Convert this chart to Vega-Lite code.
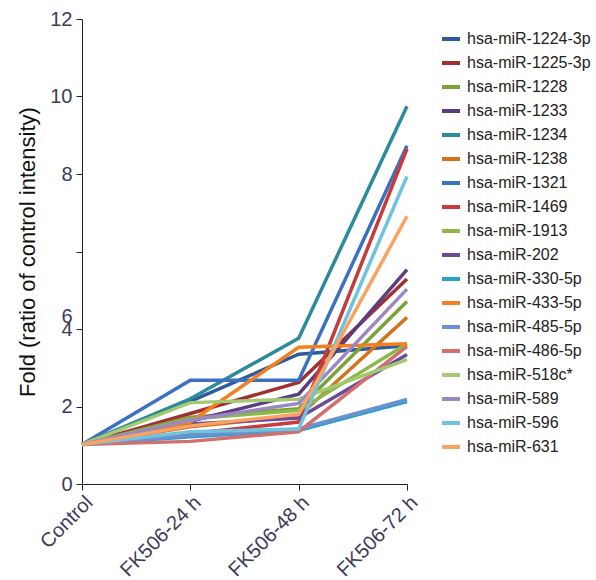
{
  "$schema": "https://vega.github.io/schema/vega-lite/v6.json",
  "autosize": {"type": "none"},
  "padding": {"left": 82, "top": 19, "right": 189, "bottom": 96},
  "width": 325,
  "height": 465,
  "background": "white",
  "config": {"view": {"stroke": null}, "font": "Liberation Sans"},
  "data": {"values": [
    {"miR":"hsa-miR-1224-3p","time":"Control","fold":1.02},{"miR":"hsa-miR-1224-3p","time":"FK506-24 h","fold":2.13},{"miR":"hsa-miR-1224-3p","time":"FK506-48 h","fold":3.35},{"miR":"hsa-miR-1224-3p","time":"FK506-72 h","fold":3.57},
    {"miR":"hsa-miR-1225-3p","time":"Control","fold":1.02},{"miR":"hsa-miR-1225-3p","time":"FK506-24 h","fold":1.82},{"miR":"hsa-miR-1225-3p","time":"FK506-48 h","fold":2.62},{"miR":"hsa-miR-1225-3p","time":"FK506-72 h","fold":5.29},
    {"miR":"hsa-miR-1228","time":"Control","fold":1.02},{"miR":"hsa-miR-1228","time":"FK506-24 h","fold":1.72},{"miR":"hsa-miR-1228","time":"FK506-48 h","fold":1.94},{"miR":"hsa-miR-1228","time":"FK506-72 h","fold":4.71},
    {"miR":"hsa-miR-1233","time":"Control","fold":1.02},{"miR":"hsa-miR-1233","time":"FK506-24 h","fold":1.62},{"miR":"hsa-miR-1233","time":"FK506-48 h","fold":2.32},{"miR":"hsa-miR-1233","time":"FK506-72 h","fold":5.53},
    {"miR":"hsa-miR-1234","time":"Control","fold":1.02},{"miR":"hsa-miR-1234","time":"FK506-24 h","fold":2.2},{"miR":"hsa-miR-1234","time":"FK506-48 h","fold":3.76},{"miR":"hsa-miR-1234","time":"FK506-72 h","fold":9.75},
    {"miR":"hsa-miR-1238","time":"Control","fold":1.02},{"miR":"hsa-miR-1238","time":"FK506-24 h","fold":1.48},{"miR":"hsa-miR-1238","time":"FK506-48 h","fold":1.75},{"miR":"hsa-miR-1238","time":"FK506-72 h","fold":4.3},
    {"miR":"hsa-miR-1321","time":"Control","fold":1.02},{"miR":"hsa-miR-1321","time":"FK506-24 h","fold":2.68},{"miR":"hsa-miR-1321","time":"FK506-48 h","fold":2.68},{"miR":"hsa-miR-1321","time":"FK506-72 h","fold":8.73},
    {"miR":"hsa-miR-1469","time":"Control","fold":1.02},{"miR":"hsa-miR-1469","time":"FK506-24 h","fold":1.3},{"miR":"hsa-miR-1469","time":"FK506-48 h","fold":1.6},{"miR":"hsa-miR-1469","time":"FK506-72 h","fold":8.65},
    {"miR":"hsa-miR-1913","time":"Control","fold":1.02},{"miR":"hsa-miR-1913","time":"FK506-24 h","fold":1.68},{"miR":"hsa-miR-1913","time":"FK506-48 h","fold":1.9},{"miR":"hsa-miR-1913","time":"FK506-72 h","fold":3.62},
    {"miR":"hsa-miR-202","time":"Control","fold":1.02},{"miR":"hsa-miR-202","time":"FK506-24 h","fold":1.55},{"miR":"hsa-miR-202","time":"FK506-48 h","fold":1.7},{"miR":"hsa-miR-202","time":"FK506-72 h","fold":3.34},
    {"miR":"hsa-miR-330-5p","time":"Control","fold":1.02},{"miR":"hsa-miR-330-5p","time":"FK506-24 h","fold":1.22},{"miR":"hsa-miR-330-5p","time":"FK506-48 h","fold":1.38},{"miR":"hsa-miR-330-5p","time":"FK506-72 h","fold":2.13},
    {"miR":"hsa-miR-433-5p","time":"Control","fold":1.02},{"miR":"hsa-miR-433-5p","time":"FK506-24 h","fold":1.6},{"miR":"hsa-miR-433-5p","time":"FK506-48 h","fold":3.53},{"miR":"hsa-miR-433-5p","time":"FK506-72 h","fold":3.62},
    {"miR":"hsa-miR-485-5p","time":"Control","fold":1.02},{"miR":"hsa-miR-485-5p","time":"FK506-24 h","fold":1.25},{"miR":"hsa-miR-485-5p","time":"FK506-48 h","fold":1.42},{"miR":"hsa-miR-485-5p","time":"FK506-72 h","fold":2.18},
    {"miR":"hsa-miR-486-5p","time":"Control","fold":1.02},{"miR":"hsa-miR-486-5p","time":"FK506-24 h","fold":1.1},{"miR":"hsa-miR-486-5p","time":"FK506-48 h","fold":1.35},{"miR":"hsa-miR-486-5p","time":"FK506-72 h","fold":3.55},
    {"miR":"hsa-miR-518c*","time":"Control","fold":1.02},{"miR":"hsa-miR-518c*","time":"FK506-24 h","fold":2.1},{"miR":"hsa-miR-518c*","time":"FK506-48 h","fold":2.19},{"miR":"hsa-miR-518c*","time":"FK506-72 h","fold":3.21},
    {"miR":"hsa-miR-589","time":"Control","fold":1.02},{"miR":"hsa-miR-589","time":"FK506-24 h","fold":1.65},{"miR":"hsa-miR-589","time":"FK506-48 h","fold":2.08},{"miR":"hsa-miR-589","time":"FK506-72 h","fold":5.03},
    {"miR":"hsa-miR-596","time":"Control","fold":1.02},{"miR":"hsa-miR-596","time":"FK506-24 h","fold":1.35},{"miR":"hsa-miR-596","time":"FK506-48 h","fold":1.42},{"miR":"hsa-miR-596","time":"FK506-72 h","fold":7.94},
    {"miR":"hsa-miR-631","time":"Control","fold":1.02},{"miR":"hsa-miR-631","time":"FK506-24 h","fold":1.5},{"miR":"hsa-miR-631","time":"FK506-48 h","fold":1.8},{"miR":"hsa-miR-631","time":"FK506-72 h","fold":6.91}
  ]},
  "mark": {"type": "line", "strokeWidth": 3.5, "strokeJoin": "miter"},
  "encoding": {
    "x": {"field": "time", "type": "nominal", "sort": null,
      "scale": {"type": "point", "padding": 0},
      "axis": {"title": null, "labelAngle": -45, "labelFontSize": 20, "labelColor": "#3d3b58",
        "labelAlign": "right", "labelBaseline": "top", "domainColor": "#222", "tickColor": "#222", "tickSize": 6, "grid": false, "labelPadding": 2, "labelOverlap": false, "labelBound": false}},
    "y": {"field": "fold", "type": "quantitative",
      "scale": {"domain": [0, 12], "nice": false},
      "axis": {"title": "Fold (ratio of control intensity)", "titleFontSize": 22, "titleFontWeight": "normal", "titleColor": "#111", "titlePadding": 10,
        "values": [0, 2, 4, 6, 8, 10, 12], "labelFontSize": 20, "labelColor": "#3d3b58", "labelOverlap": false, "labelBound": false, "labelFlush": false,
        "labelOffset": {"condition": {"test": "datum.value == 6", "value": 65}, "value": 0},
        "domainColor": "#222", "tickColor": "#222", "tickSize": 6, "grid": false, "labelPadding": 4}},
    "color": {"field": "miR", "type": "nominal",
      "scale": {
        "domain": ["hsa-miR-1224-3p","hsa-miR-1225-3p","hsa-miR-1228","hsa-miR-1233","hsa-miR-1234","hsa-miR-1238","hsa-miR-1321","hsa-miR-1469","hsa-miR-1913","hsa-miR-202","hsa-miR-330-5p","hsa-miR-433-5p","hsa-miR-485-5p","hsa-miR-486-5p","hsa-miR-518c*","hsa-miR-589","hsa-miR-596","hsa-miR-631"],
        "range": ["#2f5b9a","#a0302f","#7ba23a","#5b3d80","#2b8a9b","#d4721f","#3b71c0","#c83b3a","#8cba48","#6a4b9c","#2aa2c4","#f28021","#6a92d2","#d2706e","#a3ca72","#9a88c2","#6fc2e0","#f9a262"]},
      "legend": {"title": null, "orient": "none", "legendX": 358, "legendY": 9,
        "symbolType": "stroke", "symbolStrokeWidth": 4, "symbolSize": 324, "labelFontSize": 16, "labelColor": "#222",
        "rowPadding": 5, "labelOffset": 5, "labelLimit": 200}}
  }
}
